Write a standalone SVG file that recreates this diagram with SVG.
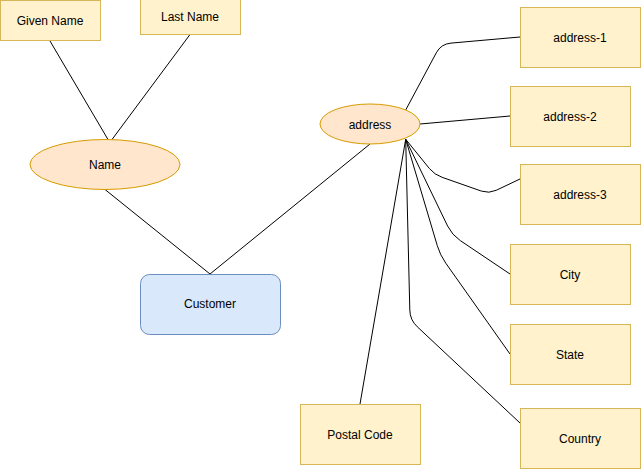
<svg xmlns="http://www.w3.org/2000/svg" width="641" height="469" viewBox="0 0 641 469">
<style>
.attr{fill:#fff2cc;stroke:#d6b656;stroke-width:1}
.ell{fill:#ffe6cc;stroke:#d79b00;stroke-width:1}
.ent{fill:#dae8fc;stroke:#6c8ebf;stroke-width:1}
.lbl{font-family:"Liberation Sans",Arial,Helvetica,sans-serif;font-size:12px;fill:#000;text-anchor:middle;dominant-baseline:central}
.conn path,.conn line{fill:none;stroke:#000;stroke-width:1}
</style>
<rect width="641" height="469" fill="#fff"/>
<g class="conn" id="connectors">
<line x1="50" y1="41" x2="108" y2="139.5"/>
<line x1="190" y1="34.5" x2="112" y2="139.5"/>
<line x1="105" y1="189.5" x2="210" y2="274"/>
<line x1="210" y1="274" x2="370" y2="144"/>
<path d="M405.7,110 L436.3,52.8 Q441,44 451,43.1 L520,37"/>
<line x1="420" y1="124" x2="510" y2="116"/>
<path d="M405.7,139.3 L429.4,168.5 Q434.5,174.7 442.1,177.3 L481.4,191.1 Q489,193.7 496.2,190.3 L520,179"/>
<path d="M405.7,139.3 L447.6,226 Q452,235 460.3,240.6 L510,274"/>
<path d="M405.7,139.3 L437.2,245.4 Q440,255 445.8,263.2 L510,354"/>
<path d="M405.7,139.3 L409.8,310 Q410,320 417.3,326.8 L520,423"/>
<line x1="405.7" y1="139.3" x2="360" y2="404"/>
</g>
<g id="given-name"><rect class="attr" x="0.5" y="0.5" width="100" height="40"/><text class="lbl" x="50" y="21">Given Name</text></g>
<g id="last-name"><rect class="attr" x="140.5" y="-5.5" width="100" height="40"/><text class="lbl" x="190" y="17">Last Name</text></g>
<g id="name"><ellipse class="ell" cx="105" cy="164.5" rx="75" ry="25"/><text class="lbl" x="105" y="165">Name</text></g>
<g id="customer"><rect class="ent" x="140.5" y="274.5" width="140" height="60" rx="9"/><text class="lbl" x="210" y="304">Customer</text></g>
<g id="address"><ellipse class="ell" cx="370" cy="124" rx="50" ry="20"/><text class="lbl" x="370" y="125">address</text></g>
<g id="address-1"><rect class="attr" x="520.5" y="7.5" width="120" height="60"/><text class="lbl" x="580" y="38">address-1</text></g>
<g id="address-2"><rect class="attr" x="510.5" y="86.5" width="120" height="60"/><text class="lbl" x="570" y="117">address-2</text></g>
<g id="address-3"><rect class="attr" x="520.5" y="164.5" width="120" height="60"/><text class="lbl" x="580" y="195">address-3</text></g>
<g id="city"><rect class="attr" x="510.5" y="244.5" width="120" height="60"/><text class="lbl" x="570" y="275">City</text></g>
<g id="state"><rect class="attr" x="510.5" y="324.5" width="120" height="60"/><text class="lbl" x="570" y="355">State</text></g>
<g id="country"><rect class="attr" x="520.5" y="408.5" width="120" height="60"/><text class="lbl" x="580" y="439">Country</text></g>
<g id="postal-code"><rect class="attr" x="300.5" y="404.5" width="120" height="60"/><text class="lbl" x="360" y="435">Postal Code</text></g>
</svg>
